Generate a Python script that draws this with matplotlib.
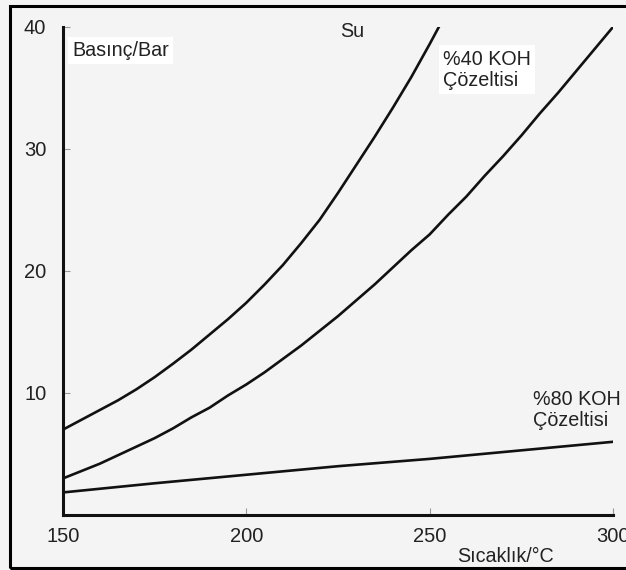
import matplotlib.pyplot as plt
from matplotlib.patches import Rectangle

# okunan degerler (sicaklik °C, basinc bar)
sicaklik_su = [150, 155, 160, 165, 170, 175, 180, 185, 190, 195, 200, 205, 210, 215,
               220, 225, 230, 235, 240, 245, 250, 252.5]
basinc_su = [7.0, 7.8, 8.6, 9.4, 10.3, 11.3, 12.4, 13.55, 14.8, 16.05, 17.4, 18.9, 20.5, 22.3,
             24.2, 26.4, 28.7, 31.0, 33.4, 35.9, 38.6, 40.0]

sicaklik_koh40 = [150, 155, 160, 165, 170, 175, 180, 185, 190, 195, 200, 205, 210, 215, 220,
                  225, 230, 235, 240, 245, 250, 255, 260, 265, 270, 275, 280, 285, 290, 295, 300]
basinc_koh40 = [3.0, 3.6, 4.2, 4.9, 5.6, 6.3, 7.1, 8.0, 8.8, 9.8, 10.7, 11.7, 12.8, 13.9, 15.1,
                16.3, 17.6, 18.9, 20.3, 21.7, 23.0, 24.6, 26.1, 27.8, 29.4, 31.1, 32.9, 34.6, 36.4, 38.2, 40.0]

sicaklik_koh80 = [150, 175, 200, 225, 250, 275, 300]
basinc_koh80 = [1.85, 2.6, 3.3, 4.0, 4.6, 5.3, 6.0]

x_ticks = [150, 200, 250, 300]
y_ticks = [10, 20, 30, 40]

plt.rcParams['font.family'] = ['Liberation Sans', 'DejaVu Sans']

fig = plt.figure(figsize=(6.26, 5.70), dpi=100)
fig.patch.set_facecolor('#f4f4f4')
ax = fig.add_axes([63 / 626, 1 - 515 / 570, (613 - 63) / 626, (515 - 27) / 570])
ax.set_facecolor('none')

renk = '#111111'
yazi = '#222222'
ax.plot(sicaklik_su, basinc_su, color=renk, linewidth=1.9, solid_joinstyle='round')
ax.plot(sicaklik_koh40, basinc_koh40, color=renk, linewidth=1.9, solid_joinstyle='round')
ax.plot(sicaklik_koh80, basinc_koh80, color=renk, linewidth=1.9, solid_joinstyle='round')

ax.set_xlim(150, 300)
ax.set_ylim(0, 40)
ax.set_xticks(x_ticks)
ax.set_yticks(y_ticks)
ax.tick_params(axis='both', direction='in', length=5, width=0.8, color='#999999',
               labelsize=14.5, labelcolor=yazi)
ax.tick_params(axis='y', pad=12)
ax.tick_params(axis='x', pad=9)

for side in ['top', 'right']:
    ax.spines[side].set_visible(False)
for side in ['left', 'bottom']:
    ax.spines[side].set_linewidth(2.2)
    ax.spines[side].set_color(renk)

kutu = dict(facecolor='white', edgecolor='none', pad=3)
ax.text(152.5, 38.1, 'Basınç/Bar', fontsize=14.2, va='center', ha='left', color=yazi, bbox=kutu)
ax.text(225.5, 39.6, 'Su', fontsize=14.2, va='center', ha='left', color=yazi)
ax.text(253.6, 36.5, '%40 KOH\nÇözeltisi', fontsize=14.2, va='center', ha='left',
        color=yazi, linespacing=1.15, bbox=kutu)
ax.text(278.2, 8.6, '%80 KOH\nÇözeltisi', fontsize=14.2, va='center', ha='left',
        color=yazi, linespacing=1.15)

fig.text(457 / 626, 1 - 557 / 570, 'Sıcaklık/°C', fontsize=14.2, va='center', ha='left', color=yazi)

# dis cerceve
fig.patches.append(Rectangle((10 / 626, 1 - 568 / 570), 1.2, (568 - 6) / 570,
                             transform=fig.transFigure, fill=False, edgecolor='black',
                             linewidth=2.2, clip_on=False))

fig.savefig('out.png', dpi=100, facecolor=fig.get_facecolor())
